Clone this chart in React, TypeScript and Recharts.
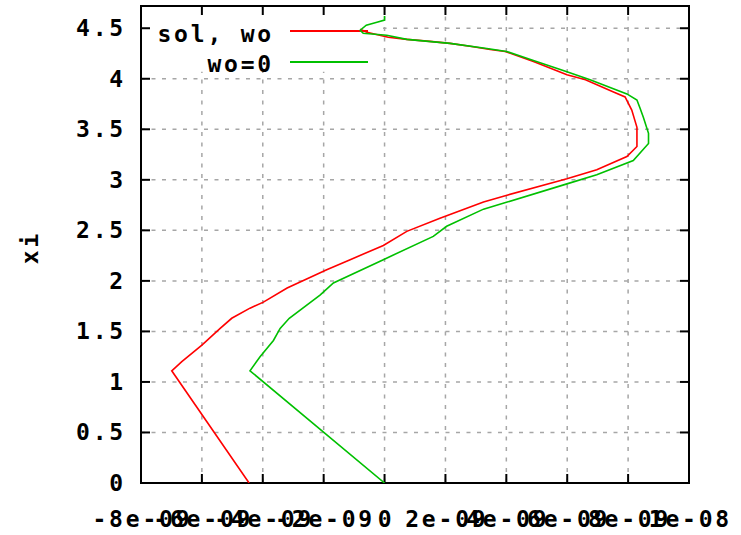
import React from "react";
import {
    ScatterChart,
    Scatter,
    XAxis,
    YAxis,
    CartesianGrid,
    ReferenceArea,
} from "recharts";

// sol values, in units of 1e-09
const redSol = [
    -4.45, -6.99, -6.66, -6.0, -5.4, -5.02, -4.42, -3.98, -3.2, -1.9, -1.13,
    -0.04, 0.73, 1.82, 3.25, 4.05, 5.99, 6.97, 7.96, 8.29, 8.29, 8.12, 7.9,
    7.52, 6.6, 5.99, 4.89, 3.96, 3.47, 2.86, 2.15, 1.49, 0.73, 0.12, -0.58, -0.8,
];
const redXi = [
    0, 1.11, 1.2, 1.365, 1.53, 1.63, 1.73, 1.79, 1.93, 2.11, 2.21, 2.35, 2.49,
    2.62, 2.78, 2.85, 3.01, 3.1, 3.23, 3.33, 3.52, 3.69, 3.82, 3.87, 3.99, 4.04,
    4.17, 4.27, 4.29, 4.32, 4.35, 4.37, 4.39, 4.41, 4.46, 4.49,
];

const greenSol = [
    0, -4.42, -4.09, -3.65, -3.43, -3.13, -2.12, -1.68, -0.04, 1.6, 2.04, 3.25,
    4.03, 5.99, 6.97, 8.17, 8.67, 8.67, 8.5, 8.39, 8.29, 7.96, 6.75, 5.99, 4.89,
    4.01, 3.36, 2.15, 0.73, 0.07, -0.7, -0.8, -0.6, -0.25, 0, 0,
];
const greenXi = [
    0, 1.11, 1.25, 1.41, 1.53, 1.63, 1.86, 1.98, 2.21, 2.44, 2.54, 2.71, 2.78,
    2.96, 3.05, 3.19, 3.36, 3.46, 3.62, 3.71, 3.79, 3.85, 3.99, 4.07, 4.18,
    4.27, 4.3, 4.35, 4.39, 4.43, 4.45, 4.48, 4.53, 4.56, 4.58, 4.62,
];

const seriesNames = ["sol, wo", "wo=0"];
const seriesColors = ["#ff0000", "#00c000"];

const xTicks = [-8, -6, -4, -2, 0, 2, 4, 6, 8, 10];
const xTickLabels = [
    "-8e-09", "-6e-09", "-4e-09", "-2e-09", "0",
    "2e-09", "4e-09", "6e-09", "8e-09", "1e-08",
];
const yTicks = [0, 0.5, 1, 1.5, 2, 2.5, 3, 3.5, 4, 4.5];
const yTickLabels = ["0", "0.5", "1", "1.5", "2", "2.5", "3", "3.5", "4", "4.5"];

const redData = redSol.map((v, i) => ({ x: v, y: redXi[i] }));
const greenData = greenSol.map((v, i) => ({ x: v, y: greenXi[i] }));

const W = 741;
const H = 535;
const LEFT = 141;
const RIGHT = 689;
const TOP = 6;
const BOTTOM = 483;
const TICK = 9;
const X_MIN = -8;
const X_MAX = 10;
const Y_MAX = 4.72;
// tick mark size in data units, so the marks go through the scales
const TICK_Y = (TICK * Y_MAX) / (BOTTOM - TOP);
const TICK_HALF_X = (1 * (X_MAX - X_MIN)) / (RIGHT - LEFT);
const textStyle = {
    fontFamily: "'DejaVu Sans Mono', monospace",
    fontWeight: 700,
    fontSize: 23,
    letterSpacing: 2.8,
    fill: "#000",
};

function XTick(props: any) {
    const { x, index } = props;
    return (
        <text x={x + 1.4} y={527} textAnchor="middle" style={textStyle}>
            {xTickLabels[index]}
        </text>
    );
}

function YTick(props: any) {
    const { y, index } = props;
    return (
        <g>
            <text x={126} y={y + 8} textAnchor="end" style={textStyle}>
                {yTickLabels[index]}
            </text>
            <line x1={LEFT} x2={LEFT + TICK} y1={y} y2={y} stroke="#000" strokeWidth={2} />
            <line x1={RIGHT} x2={RIGHT - TICK} y1={y} y2={y} stroke="#000" strokeWidth={2} />
        </g>
    );
}

// axis title plus the key in the top left corner
function Labels(props: any) {
    const vb = props.viewBox || { y: TOP, height: BOTTOM - TOP };
    const cy = vb.y + vb.height / 2 + 3;
    return (
        <g>
            <text x={38} y={cy} textAnchor="middle" transform={`rotate(-90, 38, ${cy})`} style={textStyle}>
                xi
            </text>
            {seriesNames.map((name, i) => (
                <g key={name}>
                    <text x={274} y={42 + i * 30} textAnchor="end" style={textStyle}>
                        {name}
                    </text>
                    <line
                        x1={290}
                        x2={368}
                        y1={31 + i * 31}
                        y2={31 + i * 31}
                        stroke={seriesColors[i]}
                        strokeWidth={2}
                    />
                </g>
            ))}
        </g>
    );
}

export default function App() {
    const inner = xTicks.slice(1, -1);
    return (
        <div style={{ position: "absolute", left: 0, top: 0, background: "#fff" }}>
            <ScatterChart
                width={W}
                height={H}
                margin={{ top: TOP, right: W - RIGHT, bottom: 0, left: 0 }}
            >
                <CartesianGrid stroke="#a6a6a6" strokeWidth={1.5} strokeDasharray="4 6.5" />
                <XAxis
                    type="number"
                    dataKey="x"
                    domain={[X_MIN, X_MAX]}
                    ticks={xTicks}
                    interval={0}
                    allowDataOverflow
                    height={H - BOTTOM}
                    axisLine={false}
                    tickLine={false}
                    tick={<XTick />}
                />
                <YAxis
                    type="number"
                    dataKey="y"
                    domain={[0, Y_MAX]}
                    ticks={yTicks}
                    interval={0}
                    allowDataOverflow
                    width={LEFT}
                    axisLine={false}
                    tickLine={false}
                    tick={<YTick />}
                    label={<Labels />}
                />
                {/* key box hides the grid behind it */}
                <ReferenceArea
                    x1={X_MIN}
                    x2={-0.05}
                    y1={4.07}
                    y2={Y_MAX}
                    fill="#fff"
                    fillOpacity={1}
                    stroke="none"
                    ifOverflow="visible"
                />
                {/* inner tick marks on the bottom and top borders */}
                {inner.map((t) => (
                    <ReferenceArea
                        key={`b${t}`}
                        x1={t - TICK_HALF_X}
                        x2={t + TICK_HALF_X}
                        y1={0}
                        y2={TICK_Y}
                        fill="#000"
                        fillOpacity={1}
                        stroke="none"
                        ifOverflow="visible"
                    />
                ))}
                {inner.map((t) => (
                    <ReferenceArea
                        key={`t${t}`}
                        x1={t - TICK_HALF_X}
                        x2={t + TICK_HALF_X}
                        y1={Y_MAX - TICK_Y}
                        y2={Y_MAX}
                        fill="#000"
                        fillOpacity={1}
                        stroke="none"
                        ifOverflow="visible"
                    />
                ))}
                <ReferenceArea
                    x1={X_MIN}
                    x2={X_MAX}
                    y1={0}
                    y2={Y_MAX}
                    fill="none"
                    fillOpacity={0}
                    stroke="#000"
                    strokeWidth={2}
                    ifOverflow="visible"
                />
                <Scatter
                    name={seriesNames[0]}
                    data={redData}
                    fill={seriesColors[0]}
                    line={{ stroke: seriesColors[0], strokeWidth: 1.6 }}
                    lineJointType="linear"
                    shape={() => <g />}
                    isAnimationActive={false}
                />
                <Scatter
                    name={seriesNames[1]}
                    data={greenData}
                    fill={seriesColors[1]}
                    line={{ stroke: seriesColors[1], strokeWidth: 1.6 }}
                    lineJointType="linear"
                    shape={() => <g />}
                    isAnimationActive={false}
                />
            </ScatterChart>
        </div>
    );
}
